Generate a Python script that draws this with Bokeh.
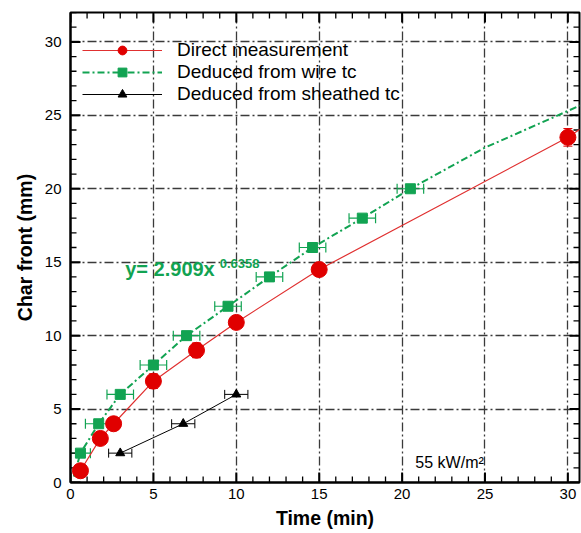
from bokeh.plotting import figure
from bokeh.models import (Range1d, Whisker, ColumnDataSource, Label,
                          Legend, LegendItem, SingleIntervalTicker, TeeHead)
from bokeh.embed import file_html
from bokeh.resources import INLINE

# Direct measurement
direct_t = [0.6, 1.8, 2.6, 5.0, 7.6, 10.0, 15.0, 30.0]
direct_d = [0.8, 3.0, 4.0, 6.9, 9.0, 10.9, 14.5, 23.5]
direct_err = [0.15, 0.3, 0.2, 0.5, 0.5, 0.2, 0.4, 0.6]
direct_curve_t = [0.6, 1.8, 2.6, 5.0, 7.6, 10.0, 15.0, 30.0, 30.8]
direct_curve_d = [0.8, 3.0, 4.0, 6.9, 9.0, 10.9, 14.5, 23.5, 24.1]

# Deduced from wire tc
wire_t = [0.6, 1.7, 3.0, 5.0, 7.0, 9.5, 12.0, 14.6, 17.6, 20.5]
wire_d = [2, 4, 6, 8, 10, 12, 14, 16, 18, 20]
wire_xerr = [0.6, 0.8, 0.8, 0.8, 0.8, 0.8, 0.8, 0.8, 0.8, 0.8]
wire_curve_t = [0.2, 0.6, 1.7, 3.0, 5.0, 7.0, 9.5, 12.0, 14.6, 17.6, 20.5, 25.0, 30.8]
wire_curve_d = [0.4, 2, 4, 6, 8, 10, 12, 14, 16, 18, 20, 22.8, 25.7]

# Deduced from sheathed tc
sheath_t = [3.0, 6.8, 10.0]
sheath_d = [2, 4, 6]
sheath_xerr = [0.7, 0.7, 0.7]

# axis ticks
X_MAX, Y_MAX = 30.7, 32
x_major = [0, 5, 10, 15, 20, 25, 30]
y_major = [0, 5, 10, 15, 20, 25, 30]
x_minor = [v for v in range(0, 31) if v % 5]
y_minor = [v for v in range(0, 33) if v % 5]

FONT = "Liberation Sans"
GREEN = "#12a352"
RED = "#e00000"
GRID = "#3a3a3a"

W, H = 581, 533
BL, BR, BT, BB = 70, 2, 12, 51
p = figure(width=W, height=H, x_range=Range1d(0, X_MAX), y_range=Range1d(0, Y_MAX),
           output_backend="svg", toolbar_location=None,
           min_border_left=BL, min_border_right=BR, min_border_top=BT, min_border_bottom=BB)
p.background_fill_color = "white"
p.outline_line_color = "black"
p.outline_line_width = 2

for ax in (p.xaxis[0], p.yaxis[0]):
    ax.ticker = SingleIntervalTicker(interval=5, num_minor_ticks=5)
    ax.major_tick_in = 0
    ax.major_tick_out = 0
    ax.minor_tick_in = 0
    ax.minor_tick_out = 0
    ax.axis_line_width = 2
    ax.major_label_text_font = FONT
    ax.major_label_text_font_size = "15px"
    ax.major_label_text_color = "black"
    ax.axis_label_text_font = FONT
    ax.axis_label_text_font_style = "bold"
    ax.axis_label_text_font_size = "19.5px"
    ax.axis_label_text_color = "black"

p.xaxis.axis_label = "Time (min)"
p.yaxis.axis_label = "Char front (mm)"
p.xaxis.major_label_standoff = 6
p.xaxis.axis_label_standoff = 5
p.yaxis.major_label_standoff = 9
p.yaxis.axis_label_standoff = 6

for g in (p.xgrid[0], p.ygrid[0]):
    g.ticker = SingleIntervalTicker(interval=5)
    g.grid_line_color = GRID
    g.grid_line_width = 1.3
    g.grid_line_dash = "9 3 2 3"

# inward ticks on all four sides, as short segments (pixel lengths converted to data units)
px_x = X_MAX / (W - BL - BR)
px_y = Y_MAX / (H - BT - BB)
for xs, ln, lw in ((x_minor, 6, 1.3), (x_major, 10, 2)):
    n = len(xs)
    p.segment(x0=xs, y0=[0] * n, x1=xs, y1=[ln * px_y] * n, line_color="black", line_width=lw)
    p.segment(x0=xs, y0=[Y_MAX] * n, x1=xs, y1=[Y_MAX - ln * px_y] * n,
              line_color="black", line_width=lw)
for ys, ln, lw in ((y_minor, 6, 1.3), (y_major, 10, 2)):
    n = len(ys)
    p.segment(x0=[0] * n, y0=ys, x1=[ln * px_x] * n, y1=ys, line_color="black", line_width=lw)
    p.segment(x0=[X_MAX] * n, y0=ys, x1=[X_MAX - ln * px_x] * n, y1=ys,
              line_color="black", line_width=lw)

# curves
r_line = p.line(direct_curve_t, direct_curve_d, line_color="#e03030", line_width=1.2)
g_line = p.line(wire_curve_t, wire_curve_d, line_color=GREEN, line_width=2, line_dash="7 3 2 3")
s_line = p.line(sheath_t, sheath_d, line_color="black", line_width=1)

# error bars
src_r = ColumnDataSource(dict(x=direct_t, lo=[d - e for d, e in zip(direct_d, direct_err)],
                              hi=[d + e for d, e in zip(direct_d, direct_err)]))
p.add_layout(Whisker(source=src_r, base="x", lower="lo", upper="hi", dimension="height",
                     line_color=RED, line_width=1,
                     upper_head=TeeHead(size=9, line_color=RED, line_width=1),
                     lower_head=TeeHead(size=9, line_color=RED, line_width=1)))
src_g = ColumnDataSource(dict(y=wire_d, lo=[t - e for t, e in zip(wire_t, wire_xerr)],
                              hi=[t + e for t, e in zip(wire_t, wire_xerr)]))
p.add_layout(Whisker(source=src_g, base="y", lower="lo", upper="hi", dimension="width",
                     line_color=GREEN, line_width=1.2,
                     upper_head=TeeHead(size=10, line_color=GREEN, line_width=1.2),
                     lower_head=TeeHead(size=10, line_color=GREEN, line_width=1.2)))
src_s = ColumnDataSource(dict(y=sheath_d, lo=[t - e for t, e in zip(sheath_t, sheath_xerr)],
                              hi=[t + e for t, e in zip(sheath_t, sheath_xerr)]))
p.add_layout(Whisker(source=src_s, base="y", lower="lo", upper="hi", dimension="width",
                     line_color="black", line_width=1,
                     upper_head=TeeHead(size=9, line_color="black", line_width=1),
                     lower_head=TeeHead(size=9, line_color="black", line_width=1)))

# markers
r_pts = p.scatter(direct_t, direct_d, marker="circle", size=16, fill_color=RED, line_color=RED)
g_pts = p.scatter(wire_t, wire_d, marker="square", size=10, fill_color=GREEN, line_color=GREEN)
s_pts = p.scatter(sheath_t, sheath_d, marker="triangle", size=9, fill_color="black", line_color="black")

legend = Legend(items=[
    LegendItem(label="Direct measurement", renderers=[r_line, r_pts]),
    LegendItem(label="Deduced from wire tc", renderers=[g_line, g_pts]),
    LegendItem(label="Deduced from sheathed tc", renderers=[s_line, s_pts]),
], location=(12, 377))
legend.background_fill_alpha = 0
legend.border_line_alpha = 0
legend.padding = 0
legend.margin = 0
legend.spacing = 0
legend.glyph_width = 80
legend.glyph_height = 22
legend.label_height = 22
legend.label_standoff = 15
legend.label_text_font = FONT
legend.label_text_font_size = "19px"
legend.label_text_color = "black"
p.add_layout(legend, "center")

p.add_layout(Label(x=3.3, y=13.8, text="y= 2.909x", text_font=FONT, text_font_style="bold",
                   text_font_size="20px", text_color=GREEN))
p.add_layout(Label(x=9.0, y=14.6, text="0.6358", text_font=FONT, text_font_style="bold",
                   text_font_size="13px", text_color=GREEN))
p.add_layout(Label(x=20.8, y=0.75, text="55 kW/m²", text_font=FONT,
                   text_font_size="16px", text_color="black"))

open("out.html", "w").write(file_html(p, INLINE))
